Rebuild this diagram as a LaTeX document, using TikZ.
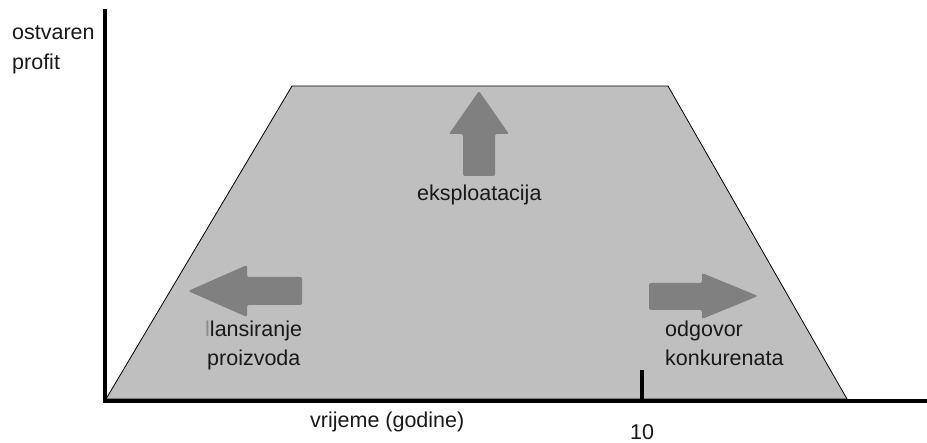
\documentclass[tikz,border=0pt]{standalone}
\usepackage{fontspec}
\setmainfont{Liberation Sans}
\begin{document}
\begin{tikzpicture}[x=1pt,y=-1pt,
  lbl/.style={anchor=base west,inner sep=0pt,text=black!90,font=\fontsize{21.5}{30}\selectfont},
  bigarrow/.style={fill=black!50,draw=none,rounded corners=2pt},
  axis/.style={line width=4pt}]
\useasboundingbox (0,0) rectangle (927,443);
% trapezoid
\draw[fill=black!25,line width=0.8pt] (106,399) -- (292,86) -- (668,86) -- (847,399) -- cycle;
% axes
\draw[axis] (104.5,9) -- (104.5,401) -- (927,401);
\draw[line width=3.5pt] (642,370) -- (642,401);
% arrows
\fill[bigarrow] (302,277) -- (247,277) -- (247,265) -- (188,291) -- (247,317) -- (247,305) -- (302,305) -- cycle;
\fill[bigarrow] (649,283) -- (702,283) -- (702,273) -- (758,296) -- (702,319) -- (702,310) -- (649,310) -- cycle;
\fill[bigarrow] (463,176) -- (463,134) -- (449,134) -- (479,91) -- (509,134) -- (495,134) -- (495,176) -- cycle;
% labels
\node[lbl] (yl1) at (12,40) {ostvaren};
\node[lbl] (yl2) at (12,70) {profit};
\node[lbl] (eks) at (417,201) {eksploatacija};
\node[lbl] (lan) at (205,337) {{\color{black!45}l}lansiranje};
\node[lbl] (pro) at (207,366) {proizvoda};
\node[lbl] (odg) at (665,337) {odgovor};
\node[lbl] (kon) at (665,366) {konkurenata};
\node[lbl] (xl) at (310,428) {vrijeme (godine)};
\node[lbl] (ten) at (630,440) {10};
\end{tikzpicture}
\end{document}
